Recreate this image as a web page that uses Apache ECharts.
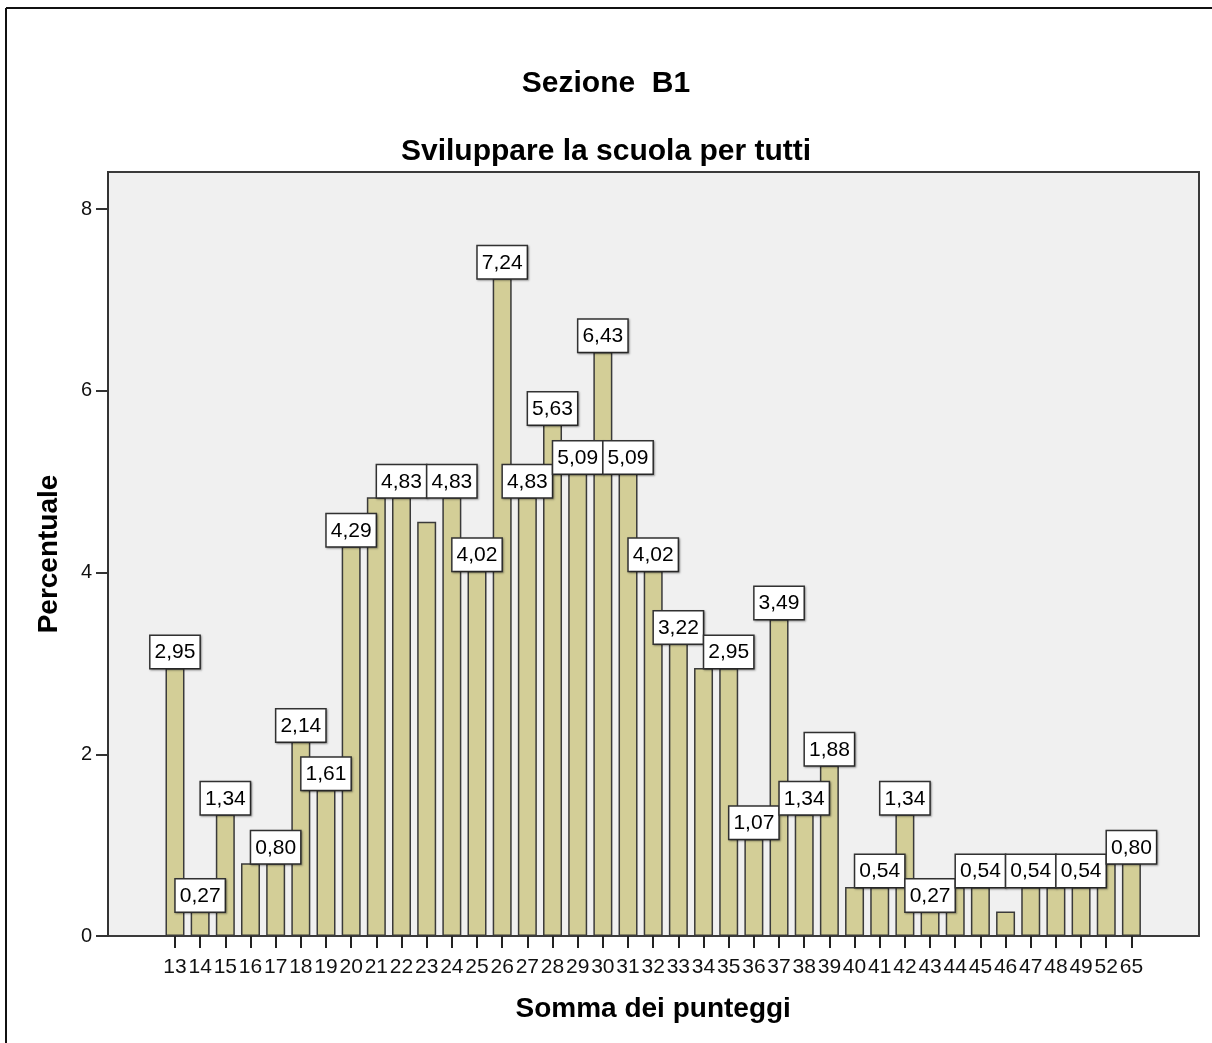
<!DOCTYPE html>
<html>
<head>
<meta charset="utf-8">
<script src="https://cdn.jsdelivr.net/npm/echarts@6/dist/echarts.min.js"></script>
<style>
html,body{margin:0;padding:0;background:#fff;}
#chart{width:1212px;height:1043px;}
</style>
</head>
<body>
<div id="chart"></div>
<script>
var categories = ['13','14','15','16','17','18','19','20','21','22','23','24','25','26','27','28','29','30','31','32','33','34','35','36','37','38','39','40','41','42','43','44','45','46','47','48','49','52','65'];
var percentValues = [2.95,0.27,1.34,0.80,0.80,2.14,1.61,4.29,4.83,4.83,4.56,4.83,4.02,7.24,4.83,5.63,5.09,6.43,5.09,4.02,3.22,2.95,2.95,1.07,3.49,1.34,1.88,0.54,0.54,1.34,0.27,0.54,0.54,0.27,0.54,0.54,0.54,0.80,0.80];
var labelShown = [1,1,1,0,1,1,1,1,0,1,0,1,1,1,1,1,1,1,1,1,1,0,1,1,1,1,1,0,1,1,1,0,1,0,1,0,1,0,1];
var yTicks = [0, 2, 4, 6, 8];

var FONT = 'Liberation Sans';
var yTop = 8.41;

var barData = percentValues.map(function (v, i) {
  return { value: v, label: { show: !!labelShown[i] } };
});

var chart = echarts.init(document.getElementById('chart'), null, { renderer: 'canvas' });
chart.setOption({
  backgroundColor: '#ffffff',
  animation: false,
  textStyle: { fontFamily: FONT },
  title: [
    { text: 'Sezione  B1', left: 'center', top: 64, textStyle: { fontFamily: FONT, fontSize: 30, fontWeight: 'bold', color: '#000' } },
    { text: 'Sviluppare la scuola per tutti', left: 'center', top: 132, textStyle: { fontFamily: FONT, fontSize: 30, fontWeight: 'bold', color: '#000' } }
  ],
  graphic: [
    { type: 'line', shape: { x1: 6, y1: 8, x2: 1212, y2: 8 }, style: { stroke: '#111', lineWidth: 2 } },
    { type: 'line', shape: { x1: 6, y1: 8, x2: 6, y2: 1043 }, style: { stroke: '#111', lineWidth: 2 } }
  ],
  grid: [
    { left: 108, right: 13, top: 172, bottom: 107, show: true, backgroundColor: '#f0f0f0', borderColor: '#3a3a3a', borderWidth: 2 },
    { left: 108, right: 13, top: 936 - 8 * (764 / yTop), bottom: 107 },
    { left: 162.4, width: 981.6, top: 172, bottom: 107 }
  ],
  xAxis: [
    { gridIndex: 0, type: 'value', show: false, min: 0, max: 1 },
    { gridIndex: 1, type: 'value', show: false, min: 0, max: 1 },
    {
      gridIndex: 2, type: 'category', data: categories,
      axisLine: { show: false },
      axisTick: { show: true, alignWithLabel: true, interval: 0, length: 12, lineStyle: { color: '#222', width: 2 } },
      axisLabel: { interval: 0, fontSize: 21, color: '#111', margin: 21, fontFamily: FONT },
      name: 'Somma dei punteggi', nameLocation: 'middle', nameGap: 59,
      nameTextStyle: { fontFamily: FONT, fontSize: 28, fontWeight: 'bold', color: '#000' }
    }
  ],
  yAxis: [
    {
      gridIndex: 0, type: 'value', min: 0, max: yTop,
      axisLine: { show: true, lineStyle: { color: '#333', width: 2 } },
      axisTick: { show: false }, axisLabel: { show: false }, splitLine: { show: false },
      name: 'Percentuale', nameLocation: 'middle', nameRotate: 90, nameGap: 45,
      nameTextStyle: { fontFamily: FONT, fontSize: 28, fontWeight: 'bold', color: '#000' }
    },
    {
      gridIndex: 1, type: 'value', min: yTicks[0], max: yTicks[yTicks.length - 1], interval: 2,
      axisLine: { show: false },
      axisTick: { show: true, length: 12, lineStyle: { color: '#333', width: 2 } },
      axisLabel: { fontSize: 20, color: '#111', margin: 16, fontFamily: FONT },
      splitLine: { show: false }
    },
    { gridIndex: 2, type: 'value', min: 0, max: yTop, show: false, splitLine: { show: false } }
  ],
  series: [
    {
      type: 'bar', xAxisIndex: 2, yAxisIndex: 2, data: barData,
      barWidth: 19,
      itemStyle: { color: '#d3ce97', borderColor: '#3a3a3a', borderWidth: 1.5 },
      label: {
        show: true, position: 'top', distance: 0,
        formatter: function (p) { return p.value.toFixed(2).replace('.', ','); },
        fontFamily: FONT, fontSize: 21, color: '#000',
        backgroundColor: '#ffffff', borderColor: '#333', borderWidth: 1.5,
        padding: [6, 4, 5, 4],
        shadowColor: 'rgba(0,0,0,0.35)', shadowBlur: 2, shadowOffsetX: 1, shadowOffsetY: 1
      },
      labelLayout: { hideOverlap: false }
    }
  ]
});
</script>
</body>
</html>
